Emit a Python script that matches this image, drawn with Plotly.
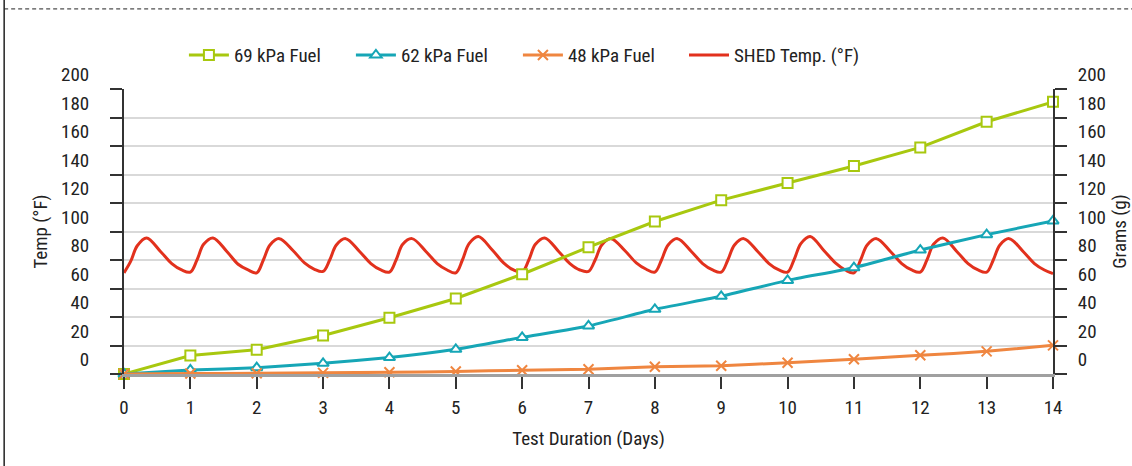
import plotly.graph_objects as go

FONT = "Roboto Condensed, Liberation Sans Narrow, DejaVu Sans Condensed, Arial Narrow, sans-serif"

days = [0, 1, 2, 3, 4, 5, 6, 7, 8, 9, 10, 11, 12, 13, 14]
fuel_69 = [0, 13, 17, 27, 39.5, 53, 70, 89, 107, 122, 134, 146, 159, 177, 191]
fuel_62 = [0, 2.8, 4.4, 7.5, 11.5, 17.3, 25.7, 33.7, 45.4, 54.5, 65.7, 74.6, 87, 97.8, 107.4]
fuel_48 = [0, 0.3, 0.5, 0.8, 1.2, 1.8, 2.6, 3.3, 5.1, 5.8, 7.9, 10.3, 13.1, 15.9, 20.1]

# SHED temperature trace (read roughly every few hours)
shed_days = [
    0, 0.1, 0.2, 0.34, 0.55, 0.72, 0.87,
    1, 1.1, 1.2, 1.34, 1.55, 1.72, 1.87,
    2, 2.1, 2.2, 2.34, 2.55, 2.72, 2.87,
    3, 3.1, 3.2, 3.34, 3.55, 3.72, 3.87,
    4, 4.1, 4.2, 4.34, 4.55, 4.72, 4.87,
    5, 5.1, 5.2, 5.34, 5.55, 5.72, 5.87,
    6, 6.1, 6.2, 6.34, 6.55, 6.72, 6.87,
    7, 7.1, 7.2, 7.34, 7.55, 7.72, 7.87,
    8, 8.1, 8.2, 8.34, 8.55, 8.72, 8.87,
    9, 9.1, 9.2, 9.34, 9.55, 9.72, 9.87,
    10, 10.1, 10.2, 10.34, 10.55, 10.72, 10.87,
    11, 11.1, 11.2, 11.34, 11.55, 11.72, 11.87,
    12, 12.1, 12.2, 12.34, 12.55, 12.72, 12.87,
    13, 13.1, 13.2, 13.34, 13.55, 13.72, 13.87,
    14,
]
shed_temp = [
    71, 79, 90, 95.5, 86, 77.5, 73,
    71.5, 80, 91, 95.5, 86, 77, 73,
    71, 80, 90.5, 95, 86.5, 78, 73.5,
    72, 80, 90.5, 95, 86, 77.5, 73,
    71.5, 80, 91, 95, 86, 77.5, 73,
    71, 80, 91.5, 96.5, 87, 78, 73,
    71.5, 80, 91, 95.5, 86, 77.5, 73,
    72, 80, 90.5, 95, 86.5, 78, 73.5,
    71.5, 80, 90.5, 95, 86, 77.5, 73,
    71.5, 80, 90.5, 95, 86, 77.5, 73,
    71.5, 80.5, 91.5, 96.5, 86.5, 78, 73,
    71, 80, 90.5, 95, 86, 77.5, 73,
    71.5, 80, 91, 95.5, 86, 77.5, 73,
    71.5, 80, 90.5, 95, 86, 77.5, 73,
    70.5,
]

LIME = "#a8c80f"
TEAL = "#16a6b6"
ORANGE = "#ef8640"
RED = "#e2311d"

fig = go.Figure()

fig.add_trace(go.Scatter(
    x=days, y=fuel_69, name="69 kPa Fuel", yaxis="y2", mode="lines+markers",
    line=dict(color=LIME, width=3),
    marker=dict(symbol="square", size=10, color="white", line=dict(color=LIME, width=2)),
    cliponaxis=False,
))
fig.add_trace(go.Scatter(
    x=days, y=fuel_62, name="62 kPa Fuel", yaxis="y2", mode="lines+markers",
    line=dict(color=TEAL, width=3, shape="spline", smoothing=0.4),
    marker=dict(symbol="triangle-up", size=10, color="white", line=dict(color=TEAL, width=2)),
    cliponaxis=False,
))
fig.add_trace(go.Scatter(
    x=days, y=fuel_48, name="48 kPa Fuel", yaxis="y2", mode="lines+markers",
    line=dict(color=ORANGE, width=3, shape="spline", smoothing=0.4),
    marker=dict(symbol="x-thin", size=10, line=dict(color=ORANGE, width=2)),
    cliponaxis=False,
))
fig.add_trace(go.Scatter(
    x=shed_days, y=shed_temp, name="SHED Temp. (°F)", mode="lines",
    line=dict(color=RED, width=3, shape="spline", smoothing=1),
    cliponaxis=False, legend="legend2",
))

tick_font = dict(family=FONT, size=19, color="#222")
legend_font = dict(family=FONT, size=19, color="#222")
y_ticks = [0, 20, 40, 60, 80, 100, 120, 140, 160, 180, 200]

fig.update_layout(
    width=1132, height=466,
    margin=dict(l=124, r=79, t=89, b=92),
    paper_bgcolor="white", plot_bgcolor="white",
    font=dict(family=FONT, size=19, color="#222"),
    showlegend=True,
    legend=dict(
        orientation="h", x=0.0645, xanchor="left", y=1.119, yanchor="middle",
        font=legend_font, itemwidth=40, entrywidth=112,
    ),
    legend2=dict(
        orientation="h", x=0.6028, xanchor="left", y=1.119, yanchor="middle",
        font=legend_font, itemwidth=40,
    ),
    xaxis=dict(
        range=[0, 14], tickmode="array", tickvals=days,
        ticks="outside", ticklen=12, tickcolor="#333", tickwidth=2,
        showline=True, linecolor="#a0a0a0", linewidth=3,
        showgrid=False, zeroline=False, automargin=False,
        tickfont=tick_font, ticklabelstandoff=2,
        title=dict(text="Test Duration (Days)", font=tick_font, standoff=14),
    ),
    yaxis=dict(
        range=[0, 200], tickvals=y_ticks,
        ticks="outside", ticklen=12, tickcolor="#333", tickwidth=2,
        showline=True, linecolor="#333", linewidth=2,
        showgrid=True, gridcolor="#d9d9d9", gridwidth=1.5, zeroline=False,
        automargin=False, ticklabelposition="outside top",
        tickfont=tick_font, ticklabelstandoff=29,
        title=dict(text="Temp (°F)", font=tick_font, standoff=8),
    ),
    yaxis2=dict(
        range=[0, 200], tickvals=y_ticks,
        overlaying="y", side="right",
        ticks="outside", ticklen=12, tickcolor="#333", tickwidth=2,
        showline=True, linecolor="#333", linewidth=2,
        showgrid=False, zeroline=False, automargin=False,
        ticklabelposition="outside top",
        tickfont=tick_font, ticklabelstandoff=19,
        title=dict(text="Grams (g)", font=tick_font, standoff=8),
    ),
)

# page frame: dashed rule on top, solid rule on the left
fig.add_shape(type="line", xref="paper", yref="paper",
              x0=-0.129, x1=1.09, y0=1.281, y1=1.281,
              line=dict(color="#222", width=1, dash="4px,3px"))
fig.add_shape(type="line", xref="paper", yref="paper",
              x0=-0.129, x1=-0.129, y0=-0.33, y1=1.32,
              line=dict(color="#222", width=1.5))

# drop the default page margin so the figure sits at the window's corner
fig.write_html("out.html", config=dict(displayModeBar=False),
               post_script="document.body.style.margin='0';")
